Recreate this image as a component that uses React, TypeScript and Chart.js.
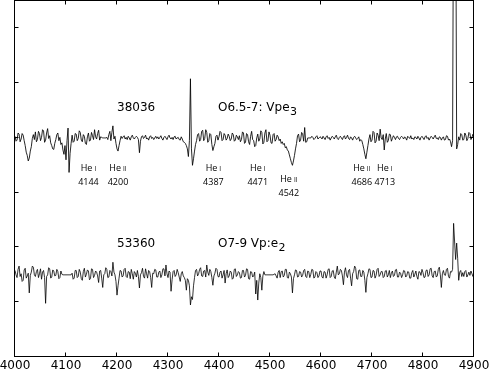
import React, { useEffect, useRef } from "react";
import { Chart, registerables } from "chart.js";

Chart.register(...registerables);

// Wavelength sampling grid (Angstrom)
const WL_START = 4000;
const WL_STEP = 2;

// Offset spectra (plot units), sampled every 2 A from 4000 to 4900
const FLUX_38036 = [
  4.03, 3.94, 3.96, 4.09, 4.07, 3.93, 3.98, 4.08, 4.05, 3.95, 3.86, 3.74, 3.68, 3.58, 3.63, 3.76, 3.84, 3.99, 4.06, 3.97,
  4.11, 3.93, 3.97, 4.12, 4.08, 3.95, 4.01, 4.15, 4.13, 3.92, 3.96, 4.09, 4.17, 3.99, 4.04, 3.91, 3.86, 3.80, 3.79, 3.90,
  3.97, 4.06, 4.09, 3.95, 4.01, 3.88, 3.91, 3.78, 3.70, 3.86, 3.60, 3.95, 4.18, 3.37, 3.72, 3.90, 4.05, 3.92, 3.94, 4.08,
  4.07, 3.95, 3.99, 4.13, 4.10, 3.96, 3.93, 4.06, 4.03, 3.90, 3.88, 4.02, 4.09, 3.94, 3.96, 4.10, 4.04, 3.97, 4.15, 4.02,
  3.98, 4.08, 4.14, 3.96, 4.02, 4.01, 4.00, 4.00, 4.00, 4.00, 4.01, 3.97, 4.06, 4.12, 3.95, 4.10, 4.22, 3.98, 4.03, 3.90,
  3.80, 3.76, 3.86, 3.95, 4.03, 3.99, 4.02, 4.04, 3.98, 4.01, 3.97, 4.03, 4.00, 3.96, 4.02, 4.05, 4.00, 3.98, 4.01, 4.03,
  4.01, 3.97, 3.73, 3.94, 4.02, 4.04, 3.99, 4.01, 4.05, 3.98, 4.00, 3.96, 4.02, 4.04, 3.99, 4.01, 3.97, 4.00, 4.03, 3.99,
  4.02, 3.98, 4.01, 4.04, 3.99, 3.96, 4.01, 4.03, 4.00, 3.97, 4.02, 4.05, 4.00, 3.98, 4.01, 3.97, 4.02, 4.03, 3.98, 4.00,
  4.01, 3.97, 3.96, 4.02, 3.98, 3.93, 3.92, 3.90, 3.86, 3.80, 3.66, 3.95, 5.08, 3.80, 3.50, 3.62, 3.76, 3.88, 3.95, 4.06,
  4.08, 3.94, 3.97, 4.12, 4.14, 3.95, 3.99, 4.15, 4.10, 3.92, 3.95, 4.08, 4.06, 3.88, 3.77, 3.84, 3.90, 4.03, 4.05, 3.96,
  4.02, 4.12, 4.10, 3.95, 3.97, 4.08, 4.05, 3.96, 3.99, 4.07, 4.03, 3.95, 3.98, 4.09, 4.06, 3.94, 3.96, 4.05, 4.02, 3.97,
  4.04, 3.93, 3.97, 4.11, 4.09, 3.90, 3.92, 4.08, 4.06, 3.93, 3.88, 4.03, 4.12, 3.97, 3.95, 3.84, 3.86, 4.00, 4.07, 3.94,
  3.98, 4.13, 4.10, 3.89, 3.92, 4.09, 4.15, 3.93, 3.95, 4.11, 4.05, 3.91, 3.90, 4.06, 4.08, 3.94, 3.97, 4.05, 4.02, 3.95,
  3.98, 3.90, 3.93, 3.88, 3.90, 3.82, 3.84, 3.78, 3.76, 3.69, 3.62, 3.55, 3.50, 3.58, 3.68, 3.80, 3.90, 4.04, 4.07, 3.93,
  3.96, 4.10, 4.08, 3.94, 4.19, 3.92, 3.93, 4.00, 4.00, 4.00, 4.00, 4.03, 4.01, 3.97, 3.99, 4.02, 4.04, 3.98, 4.00, 4.02,
  4.01, 3.98, 4.03, 4.00, 3.97, 4.02, 4.04, 3.99, 4.01, 3.96, 4.00, 4.03, 4.01, 3.98, 4.02, 4.05, 3.99, 3.97, 4.01, 4.03,
  4.00, 3.97, 4.02, 4.04, 3.98, 4.01, 4.05, 3.99, 3.97, 4.02, 4.00, 3.96, 4.01, 4.03, 4.00, 3.97, 3.99, 4.02, 3.94, 3.97,
  3.95, 3.88, 3.80, 3.70, 3.62, 3.74, 3.86, 3.98, 4.06, 3.93, 3.96, 4.12, 4.10, 3.91, 3.94, 4.09, 4.05, 3.95, 4.16, 4.00,
  3.97, 4.06, 3.78, 3.98, 4.08, 3.92, 3.95, 4.07, 4.06, 3.94, 3.99, 4.04, 4.01, 3.97, 4.02, 4.03, 3.99, 3.97, 4.01, 4.03,
  4.01, 3.98, 4.02, 4.00, 3.96, 4.03, 4.01, 3.99, 4.04, 3.98, 4.00, 3.97, 4.02, 4.01, 3.98, 4.03, 4.00, 3.96, 4.01, 4.03,
  4.00, 3.97, 4.02, 4.04, 3.99, 4.01, 3.96, 4.00, 4.03, 4.01, 3.98, 4.02, 4.05, 3.99, 4.00, 3.97, 4.02, 4.01, 3.96, 4.00,
  4.02, 3.96, 3.97, 4.04, 4.03, 3.96, 3.98, 3.93, 3.84, 3.95, 9.0, 9.5, 9.0, 3.80, 3.88, 4.02, 3.96, 4.08, 4.06, 3.96,
  3.97, 4.09, 4.05, 3.95, 3.99, 4.10, 4.08, 3.97, 4.01, 4.07, 4.04,
];

const FLUX_53360 = [
  1.58, 1.50, 1.45, 1.60, 1.66, 1.47, 1.52, 1.38, 1.40, 1.59, 1.62, 1.44, 1.48, 1.53, 1.17, 1.49, 1.55, 1.66, 1.64, 1.50,
  1.47, 1.56, 1.60, 1.45, 1.52, 1.61, 1.42, 1.55, 1.58, 1.45, 0.98, 1.47, 1.50, 1.63, 1.61, 1.44, 1.46, 1.59, 1.57, 1.48,
  1.49, 1.60, 1.56, 1.43, 1.45, 1.57, 1.51, 1.50, 1.50, 1.50, 1.50, 1.50, 1.50, 1.50, 1.50, 1.50, 1.53, 1.42, 1.44, 1.58,
  1.58, 1.45, 1.47, 1.60, 1.55, 1.43, 1.40, 1.56, 1.62, 1.46, 1.51, 1.59, 1.57, 1.41, 1.43, 1.61, 1.60, 1.45, 1.49, 1.57,
  1.55, 1.48, 1.36, 1.57, 1.58, 1.44, 1.27, 1.50, 1.52, 1.63, 1.60, 1.45, 1.46, 1.58, 1.56, 1.48, 1.73, 1.55, 1.50, 1.38,
  1.13, 1.30, 1.44, 1.58, 1.57, 1.46, 1.48, 1.60, 1.62, 1.47, 1.45, 1.56, 1.55, 1.43, 1.60, 1.52, 1.42, 1.56, 1.53, 1.46,
  1.58, 1.47, 1.26, 1.50, 1.54, 1.62, 1.47, 1.44, 1.61, 1.52, 1.44, 1.58, 1.56, 1.45, 1.27, 1.53, 1.52, 1.60, 1.59, 1.46,
  1.46, 1.55, 1.57, 1.45, 1.50, 1.61, 1.61, 1.48, 1.68, 1.52, 1.45, 1.57, 1.55, 1.20, 1.41, 1.56, 1.58, 1.47, 1.50, 1.60,
  1.54, 1.46, 1.38, 1.52, 1.56, 1.48, 1.45, 1.40, 1.22, 1.43, 1.40, 1.30, 0.95, 1.10, 1.05, 1.30, 1.45, 1.58, 1.60, 1.48,
  1.52, 1.60, 1.63, 1.48, 1.47, 1.57, 1.58, 1.46, 1.68, 1.55, 1.49, 1.60, 1.56, 1.45, 1.31, 1.48, 1.53, 1.62, 1.60, 1.47,
  1.46, 1.55, 1.57, 1.44, 1.50, 1.58, 1.35, 1.52, 1.59, 1.45, 1.48, 1.57, 1.55, 1.42, 1.44, 1.60, 1.61, 1.47, 1.50, 1.56,
  1.54, 1.44, 1.45, 1.58, 1.58, 1.46, 1.49, 1.61, 1.60, 1.43, 1.42, 1.56, 1.55, 1.46, 1.48, 1.55, 1.15, 1.40, 1.04, 1.35,
  1.52, 1.45, 1.22, 1.48, 1.56, 1.50, 1.50, 1.50, 1.50, 1.50, 1.50, 1.50, 1.50, 1.50, 1.51, 1.52, 1.48, 1.44, 1.55, 1.58,
  1.45, 1.56, 1.57, 1.46, 1.49, 1.60, 1.60, 1.45, 1.44, 1.55, 1.52, 1.46, 1.17, 1.43, 1.50, 1.59, 1.58, 1.46, 1.47, 1.56,
  1.55, 1.46, 1.49, 1.58, 1.60, 1.47, 1.45, 1.57, 1.56, 1.45, 1.51, 1.60, 1.59, 1.44, 1.46, 1.56, 1.54, 1.45, 1.48, 1.57,
  1.57, 1.46, 1.44, 1.56, 1.55, 1.44, 1.50, 1.60, 1.61, 1.45, 1.47, 1.57, 1.58, 1.46, 1.43, 1.55, 1.66, 1.50, 1.52, 1.60,
  1.58, 1.48, 1.32, 1.55, 1.63, 1.50, 1.45, 1.58, 1.60, 1.44, 1.30, 1.52, 1.56, 1.66, 1.62, 1.43, 1.42, 1.58, 1.59, 1.47,
  1.47, 1.58, 1.55, 1.40, 1.18, 1.45, 1.52, 1.61, 1.60, 1.45, 1.46, 1.58, 1.57, 1.44, 1.49, 1.60, 1.62, 1.47, 1.50, 1.56,
  1.56, 1.45, 1.47, 1.57, 1.58, 1.46, 1.50, 1.58, 1.45, 1.53, 1.57, 1.47, 1.49, 1.59, 1.60, 1.46, 1.46, 1.55, 1.53, 1.45,
  1.50, 1.58, 1.57, 1.46, 1.48, 1.56, 1.55, 1.44, 1.44, 1.54, 1.58, 1.46, 1.51, 1.57, 1.47, 1.42, 1.56, 1.55, 1.49, 1.60,
  1.54, 1.45, 1.46, 1.58, 1.59, 1.47, 1.50, 1.61, 1.62, 1.48, 1.45, 1.56, 1.57, 1.46, 1.48, 1.60, 1.64, 1.50, 1.27, 1.52,
  1.58, 1.50, 1.49, 1.60, 1.62, 1.47, 1.44, 1.56, 1.55, 1.60, 2.44, 2.10, 1.78, 2.08, 1.80, 1.40, 1.55, 1.58, 1.47, 1.54,
  1.47, 1.56, 1.58, 1.46, 1.50, 1.55, 1.49, 1.57, 1.52, 1.47, 1.53,
];

const X_MIN = 4000;
const X_MAX = 4900;
const X_TICK_STEP = 100;
const Y_MIN = 0;
const Y_MAX = 6.5;
const Y_TICKS = [1, 2, 3, 4, 5, 6];

// Star annotations
const STAR_IDS = ["38036", "53360"];
const STAR_TYPES = ["O6.5-7: Vpe", "O7-9 Vp:e"];
const STAR_TYPE_SUBS = ["3", "2"];
const STAR_LABEL_Y = [4.5, 2.0];
const STAR_ID_X = 4200;
const STAR_TYPE_X = 4398;

// Line identifications
const LINE_ELEMENT = ["He", "He", "He", "He", "He", "He", "He"];
const LINE_ION = ["I", "II", "I", "I", "II", "II", "I"];
const LINE_WAVE = ["4144", "4200", "4387", "4471", "4542", "4686", "4713"];
const LINE_LABEL_X = [4144, 4202, 4389, 4476, 4537, 4680, 4725];
const LINE_LABEL_Y = [3.4, 3.4, 3.4, 3.4, 3.19, 3.4, 3.4];

function toPoints(flux: number[]) {
  return flux.map((v, i) => ({ x: WL_START + i * WL_STEP, y: v }));
}

const decorPlugin = {
  id: "decor",
  afterDraw(chart: any) {
    const { ctx, chartArea } = chart;
    const xs = chart.scales.x;
    const ys = chart.scales.y;
    const l = Math.round(chartArea.left) - 0.5;
    const r = Math.round(chartArea.right) - 0.5;
    const t = Math.round(chartArea.top) - 0.5;
    const b = Math.round(chartArea.bottom) - 0.5;
    ctx.save();
    ctx.strokeStyle = "#000";
    ctx.lineWidth = 1;
    ctx.strokeRect(l, t, r - l, b - t);
    const tl = 4;
    ctx.beginPath();
    for (let v = X_MIN + X_TICK_STEP; v < X_MAX; v += X_TICK_STEP) {
      const px = Math.round(xs.getPixelForValue(v)) - 0.5;
      ctx.moveTo(px, b);
      ctx.lineTo(px, b - tl);
      ctx.moveTo(px, t);
      ctx.lineTo(px, t + tl);
    }
    for (const v of Y_TICKS) {
      const py = Math.round(ys.getPixelForValue(v)) - 0.5;
      ctx.moveTo(l, py);
      ctx.lineTo(l + tl, py);
      ctx.moveTo(r, py);
      ctx.lineTo(r - tl, py);
    }
    ctx.stroke();

    // star labels
    ctx.fillStyle = "#000";
    ctx.textBaseline = "alphabetic";
    ctx.textAlign = "left";
    for (let i = 0; i < STAR_IDS.length; i++) {
      const y = ys.getPixelForValue(STAR_LABEL_Y[i]);
      ctx.font = '12px "DejaVu Sans"';
      ctx.fillText(STAR_IDS[i], xs.getPixelForValue(STAR_ID_X), y);
      const tx = xs.getPixelForValue(STAR_TYPE_X);
      ctx.fillText(STAR_TYPES[i], tx, y);
      const w = ctx.measureText(STAR_TYPES[i]).width;
      ctx.font = '11px "DejaVu Sans"';
      ctx.fillText(STAR_TYPE_SUBS[i], tx + w + 0.5, y + 4);
    }

    // line identifications
    for (let i = 0; i < LINE_WAVE.length; i++) {
      const cx = xs.getPixelForValue(LINE_LABEL_X[i]);
      const y = ys.getPixelForValue(LINE_LABEL_Y[i]);
      ctx.font = '9px "Open Sans"';
      const we = ctx.measureText(LINE_ELEMENT[i]).width;
      ctx.font = '6.5px "Open Sans"';
      const wi = ctx.measureText(LINE_ION[i]).width;
      const gap = 2;
      const total = we + gap + wi;
      const x0 = cx - total / 2;
      ctx.textAlign = "left";
      ctx.font = '9px "Open Sans"';
      ctx.fillText(LINE_ELEMENT[i], x0, y);
      ctx.font = '6.5px "Open Sans"';
      ctx.fillText(LINE_ION[i], x0 + we + gap, y);
      ctx.textAlign = "center";
      ctx.font = '9px "Open Sans"';
      ctx.fillText(LINE_WAVE[i], cx, y + 14);
    }
    ctx.restore();
  },
};

export default function App() {
  const ref = useRef<HTMLCanvasElement | null>(null);
  useEffect(() => {
    document.body.style.margin = "0";
    const canvas = ref.current;
    if (!canvas) return;
    const chart = new Chart(canvas, {
      type: "line",
      data: {
        datasets: [
          {
            label: STAR_IDS[0],
            data: toPoints(FLUX_38036),
            borderColor: "#000",
            borderWidth: 0.85,
            pointRadius: 0,
            tension: 0,
            fill: false,
          },
          {
            label: STAR_IDS[1],
            data: toPoints(FLUX_53360),
            borderColor: "#000",
            borderWidth: 0.8,
            pointRadius: 0,
            tension: 0,
            fill: false,
          },
        ],
      },
      options: {
        animation: false,
        responsive: false,
        devicePixelRatio: 1,
        events: [],
        layout: { padding: { left: 15, right: 16, top: 1, bottom: 0 } },
        plugins: {
          legend: { display: false },
          tooltip: { enabled: false },
        },
        scales: {
          x: {
            type: "linear",
            position: "bottom",
            min: X_MIN,
            max: X_MAX,
            afterFit: (s: any) => {
              s.height = 14;
              s.paddingLeft = 0;
              s.paddingRight = 0;
            },
            ticks: {
              stepSize: X_TICK_STEP,
              autoSkip: false,
              maxRotation: 0,
              padding: 2,
              color: "#000",
              font: { family: "DejaVu Sans", size: 12 },
              callback: (v: any) => String(v),
            },
            grid: { display: false, drawTicks: false },
            border: { display: false },
          },
          y: {
            type: "linear",
            min: Y_MIN,
            max: Y_MAX,
            display: false,
          },
        },
      },
      plugins: [decorPlugin],
    });
    return () => chart.destroy();
  }, []);
  return (
    <div style={{ position: "absolute", left: 0, top: 0, width: 490, height: 371 }}>
      <canvas ref={ref} width={490} height={371} style={{ width: 490, height: 371 }} />
    </div>
  );
}
